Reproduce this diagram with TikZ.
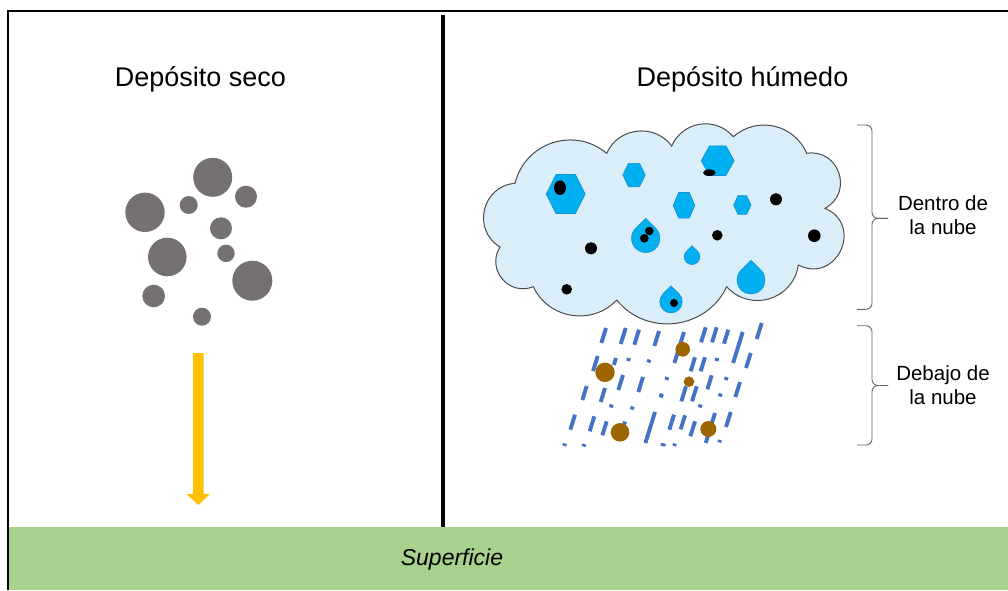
\documentclass[tikz,border=0pt]{standalone}
\usepackage{fontspec}
\setmainfont{Liberation Sans}
\definecolor{groundgreen}{HTML}{A9D18E}
\definecolor{dustgray}{HTML}{767171}
\definecolor{cloudblue}{HTML}{DAEEF9}
\definecolor{iceblue}{HTML}{00B0F0}
\definecolor{icerim}{HTML}{1A8FD0}
\definecolor{rainblue}{HTML}{4472C4}
\definecolor{soilbrown}{HTML}{9C6500}
\definecolor{fallyellow}{HTML}{FFC000}

\begin{document}
\begin{tikzpicture}[x=1pt, y=-1pt,
    heading/.style={font=\fontsize{27}{32}\selectfont, anchor=base},
    sidelabel/.style={font=\fontsize{20.5}{24}\selectfont, align=center},
    dustball/.style={fill=dustgray},
    hexice/.style={fill=iceblue, draw=icerim, line width=0.6pt},
    droplet/.style={fill=iceblue, draw=icerim, line width=0.6pt},
    raindash/.style={draw=rainblue, line width=3.9pt},
    soilball/.style={fill=soilbrown},
    bracket/.style={draw=black!60, line width=0.9pt, rounded corners=6pt}]
    \useasboundingbox (0,0) rectangle (1008,590);

    % ground and frame
    \fill[groundgreen] (7.5,527) rectangle (1008,590);
    \draw[line width=2pt] (7.5,590) -- (7.5,11) -- (1008,11);
    \draw[line width=4pt] (443.3,15) -- (443.3,527);
    \node[font=\itshape\fontsize{23}{28}\selectfont, anchor=base] (ground) at (452,565.7) {Superficie};

    % titles
    \node[heading] (dry) at (200.5,86) {Depósito seco};
    \node[heading] (wet) at (742.5,86) {Depósito húmedo};

    % dry particles
    \foreach \x/\y/\r in {212.7/177.3/19.5, 246/196.7/11, 145/212.3/19.7, 188.7/205/9,
        221/228.3/11, 167.3/257/19.3, 226/253.3/8.7, 252.3/280.7/20, 153.7/296/11.3, 202/316.7/9}
        \fill[dustball] (\x,\y) circle (\r);
    \fill[fallyellow] (193,353) -- (203.5,353) -- (203.5,494) -- (210,494) -- (198.3,505)
        -- (186.5,494) -- (193,494) -- cycle;

    % cloud
    \coordinate (v1) at (515,183.3);
    \coordinate (v2) at (606.7,153.3);
    \coordinate (v3) at (671.7,146);
    \coordinate (v4) at (733.3,136.7);
    \coordinate (v5) at (806.7,153.3);
    \coordinate (v6) at (825,208.3);
    \coordinate (v7) at (798.3,265);
    \coordinate (v8) at (726.7,286.7);
    \coordinate (v9) at (616.7,300);
    \coordinate (v10) at (533.3,286.7);
    \coordinate (v11) at (500,247);
    \draw[black!70, line width=1pt, fill=cloudblue] (v1)
        to[bend left=58, looseness=1.12] (v2)
        to[bend left=60, looseness=1.12] (v3)
        to[bend left=58, looseness=1.12] (v4)
        to[bend left=54, looseness=1.08] (v5)
        to[bend left=80, looseness=1.45] (v6)
        to[bend left=92, looseness=1.75] (v7)
        to[bend left=65, looseness=1.2] (v8)
        to[bend left=58, looseness=1.1] (v9)
        to[bend left=56, looseness=1.08] (v10)
        to[bend left=72, looseness=1.3] (v11)
        to[bend left=72, looseness=1.3] (v1) -- cycle;

    % ice crystals and droplets
    \foreach \x/\y/\rx/\ry in {565.7/194/19.5/19.5, 634/175/11.2/11.7, 717.7/160.7/16.5/14.8,
        684/205.3/10.8/12.8, 742.3/205/8.7/9.3}
        \draw[hexice] (\x,\y) +(-\rx,0) -- +({-\rx/2},-\ry) -- +({\rx/2},-\ry) -- +(\rx,0)
            -- +({\rx/2},\ry) -- +({-\rx/2},\ry) -- cycle;
    \foreach \x/\y/\r in {645.7/238.3/14.2, 692/256.7/7.8, 751/280/14, 671/301.7/11.2}
        \draw[droplet] (\x,\y) ++(-45:\r) arc[start angle=-45, end angle=225, radius=\r]
            -- (\x,{\y-1.41*\r}) -- cycle;
    % aerosol inside the cloud
    \foreach \x/\y/\r in {776/199.3/6, 814.3/235.7/6.3, 717.3/235.3/5.3, 591/248.3/6,
        566.7/289.3/5.3, 649.3/231/4.3, 644.3/238.3/4.3, 674/303/4}
        \fill (\x,\y) circle (\r);
    \fill (560,187.7) ellipse (6 and 7.3);
    \fill (709.3,172.7) ellipse (6.3 and 3.3);

    % rain below the cloud
    \foreach \x/\y/\l in {606/328/15, 625.7/328/16, 639/329.7/15, 659/331/15, 597.7/356/15,
        616/358/7, 629/358/3, 649.3/359.5/3, 623/375/15, 643/377/15, 661.7/394.5/3,
        586.7/386/14, 605/388/14, 611.7/404.5/3, 632.7/406.5/3, 575/414.7/15, 594.3/416.3/15,
        606.7/421.3/14, 625/421.5/3, 655/412/31, 565/443.5/2.5, 584.3/444/2.5, 663/443.5/2.5,
        684/332/31, 705.7/327.3/15, 716.7/327.3/15, 728.3/329.7/14, 742.7/332/31, 761.7/323/16,
        695/357.3/14, 705/357.3/14, 717.3/358/3, 750.7/353/15, 667.3/377/3, 711.7/375.3/14,
        726.7/377/3, 740/382/15, 686/386.3/15, 696.7/386.3/15, 661.7/393.5/3, 720.7/393.5/3,
        700.7/404.5/3, 674/414.7/15, 685/415.3/14, 695/421.3/15, 715/413/30, 730.7/412/15,
        664/443.5/2.5, 675/443.5/2.5, 720/440/2.5}
        \draw[raindash] (\x,\y) -- ++({-0.31*\l},\l);
    \foreach \x/\y/\r in {682.7/349.3/7.3, 605/372.3/9.7, 689/381.7/5.3, 620/432.3/9.3, 708.3/429/8}
        \fill[soilball] (\x,\y) circle (\r);

    % braces and labels
    \draw[bracket] (857,125) -- (872,125) -- (872,218.3) -- (888,218.3);
    \draw[bracket] (857,309.3) -- (872,309.3) -- (872,218.3) -- (888,218.3);
    \draw[bracket] (857,325.7) -- (872,325.7) -- (872,385.5) -- (888,385.5);
    \draw[bracket] (857,445) -- (872,445) -- (872,385.5) -- (888,385.5);
    \node[sidelabel] (inside) at (943,215) {Dentro de\\la nube};
    \node[sidelabel] (below) at (943,385.3) {Debajo de\\la nube};
\end{tikzpicture}
\end{document}
